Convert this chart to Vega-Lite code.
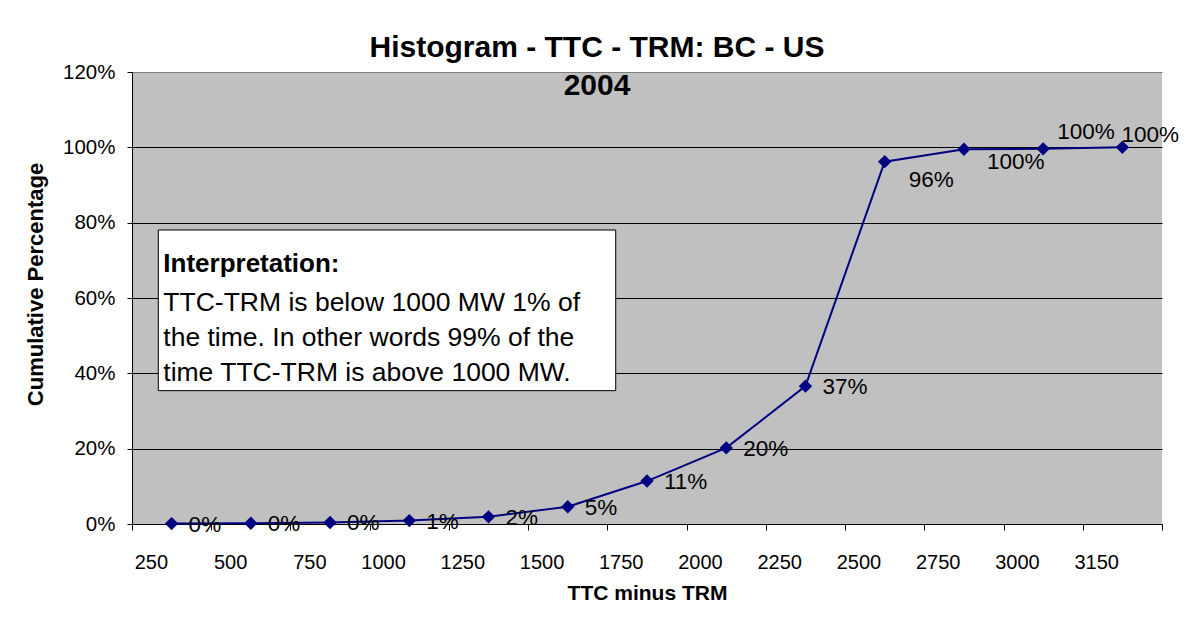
{
  "$schema": "https://vega.github.io/schema/vega-lite/v6.json",
  "width": 1030,
  "height": 452,
  "autosize": {"type": "none"},
  "padding": {"left": 132, "top": 72, "right": 29, "bottom": 99},
  "background": "white",
  "config": {
    "font": "Liberation Sans",
    "view": {"fill": "#C0C0C0", "stroke": null},
    "axis": {"labelFont": "Liberation Sans", "titleFont": "Liberation Sans", "labelColor": "#000", "titleColor": "#000", "domainColor": "#000", "tickColor": "#000"}
  },
  "title": {
    "text": ["Histogram - TTC - TRM: BC - US", "2004"],
    "fontSize": 30,
    "fontWeight": "bold",
    "lineHeight": 38,
    "offset": -39,
    "dx": -50,
    "anchor": "middle",
    "color": "#000",
    "font": "Liberation Sans"
  },
  "datasets": {
    "cdf": [
      {"ttc_minus_trm": "250", "cumulative": 0.001},
      {"ttc_minus_trm": "500", "cumulative": 0.002},
      {"ttc_minus_trm": "750", "cumulative": 0.004},
      {"ttc_minus_trm": "1000", "cumulative": 0.009},
      {"ttc_minus_trm": "1250", "cumulative": 0.019},
      {"ttc_minus_trm": "1500", "cumulative": 0.046},
      {"ttc_minus_trm": "1750", "cumulative": 0.114},
      {"ttc_minus_trm": "2000", "cumulative": 0.202},
      {"ttc_minus_trm": "2250", "cumulative": 0.366},
      {"ttc_minus_trm": "2500", "cumulative": 0.962},
      {"ttc_minus_trm": "2750", "cumulative": 0.995},
      {"ttc_minus_trm": "3000", "cumulative": 0.996},
      {"ttc_minus_trm": "3150", "cumulative": 1.0}
    ],
    "note": [
      {"heading": "Interpretation:", "body": "TTC-TRM is below 1000 MW 1% of\nthe time. In other words 99% of the\ntime TTC-TRM is above 1000 MW."}
    ]
  },
  "layer": [
    {
      "data": {"name": "note"},
      "layer": [
        {
          "mark": {"type": "rect", "fill": "white", "stroke": "#000", "strokeWidth": 1},
          "encoding": {
            "x": {"datum": 0.332, "type": "quantitative", "scale": {"domain": [0, 13], "nice": false, "zero": false}, "axis": null},
            "x2": {"datum": 6.105},
            "y": {"datum": 0.7805, "type": "quantitative"},
            "y2": {"datum": 0.354}
          }
        },
        {
          "mark": {"type": "text", "align": "left", "baseline": "alphabetic", "fontSize": 26, "fontWeight": "bold", "color": "#000"},
          "encoding": {
            "x": {"datum": 0.395, "type": "quantitative"},
            "y": {"datum": 0.67, "type": "quantitative"},
            "text": {"field": "heading"}
          }
        },
        {
          "mark": {"type": "text", "align": "left", "baseline": "alphabetic", "fontSize": 26.5, "lineHeight": 35, "lineBreak": "\n", "color": "#000"},
          "encoding": {
            "x": {"datum": 0.395, "type": "quantitative"},
            "y": {"datum": 0.5662, "type": "quantitative"},
            "text": {"field": "body"}
          }
        }
      ]
    },
    {
      "data": {"name": "cdf"},
      "encoding": {
        "x": {
          "field": "ttc_minus_trm",
          "type": "ordinal",
          "sort": null,
          "scale": {"type": "band", "paddingInner": 0, "paddingOuter": 0},
          "axis": {
            "orient": "bottom",
            "title": "TTC minus TRM",
            "titleFontSize": 21,
            "titleFontWeight": "bold",
            "titleY": 58,
            "labelAngle": 0,
            "labelFontSize": 20,
            "labelAlign": "right",
            "labelOffset": -4,
            "labelPadding": 22,
            "labelBaseline": "top",
            "tickSize": 6,
            "tickBand": "extent",
            "grid": false,
            "domainColor": "#000"
          }
        },
        "y": {
          "field": "cumulative",
          "type": "quantitative",
          "scale": {"domain": [0, 1.2], "nice": false},
          "axis": {
            "title": "Cumulative Percentage",
            "format": ".0%",
            "values": [0, 0.2, 0.4, 0.6, 0.8, 1.0, 1.2],
            "labelFontSize": 20.5,
            "labelPadding": 12,
            "tickSize": 5,
            "titleFontSize": 22,
            "titleFontWeight": "bold",
            "titlePadding": 15,
            "titleY": 212,
            "grid": true,
            "gridColor": {"condition": {"test": "datum.value >= 1.19", "value": "#808080"}, "value": "#000"},
            "gridWidth": 1,
            "domainColor": "#000"
          }
        }
      },
      "layer": [
        {"mark": {"type": "line", "color": "#000080", "strokeWidth": 2}},
        {"mark": {"type": "point", "shape": "diamond", "filled": true, "color": "#000080", "size": 180, "opacity": 1}},
        {
          "transform": [{"filter": "toNumber(datum.ttc_minus_trm) <= 2250"}],
          "mark": {"type": "text", "align": "left", "baseline": "middle", "dx": 17, "dy": 1, "fontSize": 22.5, "color": "#000"},
          "encoding": {"text": {"field": "cumulative", "type": "quantitative", "format": ".0%"}}
        },
        {
          "transform": [{"filter": "datum.ttc_minus_trm === '2500'"}],
          "mark": {"type": "text", "align": "left", "baseline": "middle", "dx": 24, "dy": 18, "fontSize": 22.5, "color": "#000"},
          "encoding": {"text": {"field": "cumulative", "type": "quantitative", "format": ".0%"}}
        },
        {
          "transform": [{"filter": "datum.ttc_minus_trm === '2750'"}],
          "mark": {"type": "text", "align": "left", "baseline": "middle", "dx": 23, "dy": 13, "fontSize": 22.5, "color": "#000"},
          "encoding": {"text": {"field": "cumulative", "type": "quantitative", "format": ".0%"}}
        },
        {
          "transform": [{"filter": "datum.ttc_minus_trm === '3000'"}],
          "mark": {"type": "text", "align": "left", "baseline": "middle", "dx": 14, "dy": -17, "fontSize": 22.5, "color": "#000"},
          "encoding": {"text": {"field": "cumulative", "type": "quantitative", "format": ".0%"}}
        },
        {
          "transform": [{"filter": "datum.ttc_minus_trm === '3150'"}],
          "mark": {"type": "text", "align": "left", "baseline": "middle", "dx": -1, "dy": -12, "fontSize": 22.5, "color": "#000"},
          "encoding": {"text": {"field": "cumulative", "type": "quantitative", "format": ".0%"}}
        }
      ]
    }
  ],
  "resolve": {"scale": {"x": "independent"}}
}
